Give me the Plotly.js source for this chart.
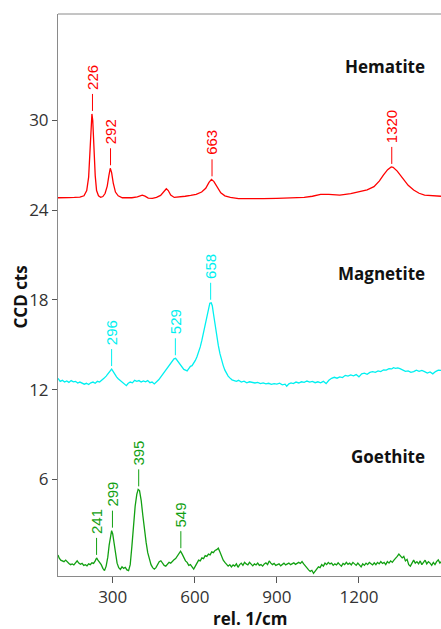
<!DOCTYPE html>
<html>
<head>
<meta charset="utf-8">
<script src="https://cdn.plot.ly/plotly-3.0.1.min.js"></script>
<style>
html,body{margin:0;padding:0;background:#fff;overflow:hidden;}
#chart{width:441px;height:629px;}
</style>
</head>
<body>
<div id="chart"></div>
<script>
// ---- Data ----
const hematiteX = [100,120,140,160,180,195,205,212,217,221,224,227,231,236,241,248,256,264,272,280,286,291,296,302,310,320,335,350,370,390,400,408,418,430,445,460,475,488,496,503,512,525,545,565,585,605,625,640,652,661,670,682,695,710,730,760,800,850,900,950,1000,1030,1060,1090,1130,1170,1200,1230,1255,1275,1290,1305,1318,1325,1340,1362,1380,1400,1420,1440,1470,1500];
const hematiteY = [24.82,24.80,24.83,24.84,24.86,24.95,25.3,26.2,27.8,29.6,30.42,30.0,28.2,26.3,25.3,24.95,24.85,24.9,25.1,25.6,26.3,26.79,26.5,25.8,25.2,24.95,24.82,24.8,24.82,24.88,24.95,24.99,24.93,24.8,24.78,24.85,24.98,25.25,25.42,25.3,25.0,24.84,24.86,24.92,24.98,25.05,25.2,25.45,25.85,26.05,25.9,25.5,25.15,24.95,24.85,24.76,24.74,24.76,24.78,24.8,24.84,24.92,25.05,25.04,25.0,25.1,25.2,25.35,25.56,25.95,26.35,26.7,26.88,26.85,26.6,26.1,25.65,25.34,25.12,25.0,24.95,24.92];

const magnetiteX = [100,108,116,124,132,140,148,156,164,172,180,188,196,204,212,220,228,236,244,252,260,268,276,284,290,296,302,308,314,320,328,336,344,350,356,364,372,380,388,396,404,412,420,428,436,444,452,460,468,476,484,492,500,508,516,524,530,536,542,548,554,560,566,572,578,584,590,596,602,608,614,620,626,632,638,644,650,655,660,664,668,672,676,680,686,692,698,704,710,716,722,728,736,744,752,760,770,780,790,800,810,820,830,840,850,860,870,880,890,900,910,920,930,936,944,952,960,970,980,990,1000,1010,1020,1030,1040,1050,1060,1070,1080,1090,1100,1110,1120,1130,1140,1150,1160,1170,1180,1190,1200,1210,1220,1230,1240,1250,1260,1270,1280,1290,1300,1310,1320,1326,1334,1342,1350,1360,1370,1380,1390,1400,1410,1420,1430,1440,1450,1460,1470,1480,1490,1500];
const magnetiteY = [12.75,12.55,12.62,12.5,12.58,12.48,12.6,12.52,12.55,12.44,12.5,12.4,12.36,12.42,12.34,12.45,12.5,12.42,12.55,12.5,12.6,12.75,12.9,13.1,13.3,13.37,13.2,13.0,12.85,12.72,12.6,12.45,12.35,12.26,12.4,12.5,12.45,12.62,12.55,12.6,12.5,12.58,12.52,12.6,12.46,12.5,12.38,12.5,12.65,12.85,13.05,13.3,13.5,13.7,13.9,14.05,14.09,13.95,13.8,13.62,13.5,13.35,13.3,13.25,13.4,13.55,13.6,13.75,13.95,14.2,14.5,14.85,15.3,15.8,16.3,16.8,17.3,17.77,17.8,17.6,17.1,16.6,16.0,15.5,14.95,14.4,13.95,13.6,13.3,13.05,12.9,12.78,12.65,12.6,12.55,12.62,12.5,12.56,12.45,12.52,12.5,12.44,12.48,12.4,12.45,12.38,12.42,12.35,12.4,12.37,12.43,12.32,12.36,12.22,12.38,12.45,12.4,12.5,12.44,12.52,12.48,12.57,12.5,12.55,12.46,12.52,12.45,12.55,12.4,12.62,12.75,12.82,12.76,12.85,12.8,12.95,12.9,12.98,12.92,13.0,12.85,13.05,13.1,13.02,13.15,13.2,13.15,13.25,13.2,13.32,13.3,13.4,13.38,13.46,13.42,13.45,13.4,13.32,13.22,13.25,13.15,13.2,13.3,13.22,13.28,13.2,13.1,13.18,13.05,13.2,13.3,13.28];

const goethiteX = [100,104,110,116,122,128,134,140,146,152,158,164,170,176,182,188,194,200,206,212,218,224,230,236,241,246,252,258,264,270,276,282,287,292,296,300,305,310,316,322,328,334,340,346,352,358,364,370,376,382,388,393,398,404,410,416,422,428,434,440,446,452,458,464,470,476,482,488,494,500,506,512,518,524,530,536,542,548,554,560,566,572,578,584,590,596,602,608,614,620,626,632,638,644,650,656,662,668,674,680,686,692,698,704,710,716,722,728,734,740,746,752,758,764,770,776,782,788,794,800,806,812,818,824,830,836,842,848,854,860,866,872,878,884,890,896,902,908,914,920,926,932,938,944,950,956,962,968,974,980,986,992,998,1004,1010,1016,1022,1028,1034,1040,1046,1052,1058,1064,1070,1076,1082,1088,1094,1100,1106,1112,1118,1124,1130,1136,1142,1148,1154,1160,1166,1172,1178,1184,1190,1196,1202,1208,1214,1220,1226,1232,1238,1244,1250,1256,1262,1268,1274,1280,1286,1292,1298,1304,1310,1316,1322,1328,1334,1340,1346,1352,1358,1364,1370,1376,1382,1388,1394,1400,1406,1412,1418,1424,1430,1436,1442,1448,1454,1460,1466,1472,1478,1484,1490,1496,1500];
const goethiteY = [0.95,0.75,0.6,0.55,0.5,0.6,0.45,0.38,0.3,0.35,0.28,0.42,0.55,0.4,0.32,0.38,0.25,0.3,0.22,0.35,0.3,0.42,0.38,0.55,0.75,0.6,0.45,0.3,0.05,-0.1,0.2,0.8,1.6,2.3,2.57,2.35,1.8,1.0,0.4,0.1,-0.02,0.15,0.05,0.12,-0.05,-0.1,0.3,1.5,2.9,4.2,5.0,5.33,5.25,4.6,3.6,2.6,1.8,1.1,0.6,0.3,0.1,0.0,0.1,0.3,0.5,0.56,0.4,0.25,0.2,0.3,0.45,0.4,0.55,0.62,0.7,0.85,1.05,1.2,1.0,0.75,0.55,0.45,0.25,0.3,0.15,0.0,0.2,0.45,0.6,0.55,0.75,0.7,0.9,0.85,1.0,0.95,1.15,1.1,1.25,1.3,1.4,1.15,0.85,0.6,0.45,0.3,0.2,0.3,0.15,0.28,0.2,0.35,0.12,0.3,0.4,0.25,0.45,0.35,0.28,0.45,0.3,0.22,0.35,0.28,0.4,0.25,0.3,0.2,0.35,0.42,0.3,0.55,0.4,0.3,0.38,0.25,0.3,0.35,0.22,0.3,0.4,0.28,0.35,0.4,0.3,0.38,0.42,0.32,0.4,0.45,0.38,0.5,0.35,0.2,0.05,-0.05,-0.15,-0.08,-0.28,-0.15,0.05,0.15,0.1,0.3,0.2,0.4,0.3,0.45,0.35,0.4,0.25,0.35,0.28,0.42,0.3,0.2,0.38,0.3,0.45,0.32,0.4,0.28,0.45,0.35,0.25,0.4,0.3,0.15,0.35,0.25,0.4,0.3,0.45,0.35,0.28,0.42,0.3,0.45,0.35,0.5,0.38,0.45,0.3,0.5,0.4,0.55,0.45,0.6,0.7,0.85,1.0,0.9,0.75,0.85,0.55,0.65,0.3,0.2,0.45,0.6,0.4,0.5,0.35,0.55,0.3,0.45,0.6,0.35,0.5,0.4,0.25,0.45,0.3,0.5,0.62,0.4,0.5];

// Peak labels
const hematitePeakX = [226, 292, 663, 1320];
const hematitePeakY = [30.42, 26.79, 26.05, 26.88];
const magnetitePeakX = [296, 529, 658];
const magnetitePeakY = [13.37, 14.09, 17.8];
const goethitePeakX = [241, 299, 395, 549];
const goethitePeakY = [0.75, 2.57, 5.33, 1.2];

const mineralNames = ["Hematite", "Magnetite", "Goethite"];
const mineralLabelY = [33.58, 19.79, 7.51];

const xTicks = [300, 600, 900, 1200];
const yTicks = [6, 12, 18, 24, 30];
const xTitle = "rel. 1/cm";
const yTitle = "CCD cts";

const RED = "#ff0000", CYAN = "#00f0f0", GREEN = "#12a012";

const traces = [
  {x: hematiteX, y: hematiteY, mode: "lines", line: {color: RED, width: 1.3}, hoverinfo: "skip"},
  {x: magnetiteX, y: magnetiteY, mode: "lines", line: {color: CYAN, width: 1.3}, hoverinfo: "skip"},
  {x: goethiteX, y: goethiteY, mode: "lines", line: {color: GREEN, width: 1.3}, hoverinfo: "skip"}
];

const annotations = [];
const shapes = [
  {type: "line", xref: "paper", yref: "paper", x0: 0, x1: 1, y0: 1, y1: 1, line: {color: "#8a8a8a", width: 1}}
];
function addPeaks(xs, ys, color) {
  xs.forEach((px, i) => {
    shapes.push({
      type: "line", xref: "x", yref: "y", ysizemode: "pixel", yanchor: ys[i],
      x0: px, x1: px, y0: 3, y1: 20, line: {color: color, width: 1}
    });
    annotations.push({
      x: px, y: ys[i], xref: "x", yref: "y",
      text: String(px), textangle: -90, showarrow: false,
      xanchor: "center", yanchor: "bottom", yshift: 23, borderpad: 0,
      font: {family: "Liberation Sans, Arial, sans-serif", size: 15, color: color}
    });
  });
}
addPeaks(hematitePeakX, hematitePeakY, RED);
addPeaks(magnetitePeakX, magnetitePeakY, CYAN);
addPeaks(goethitePeakX, goethitePeakY, GREEN);

mineralNames.forEach((n, i) => {
  annotations.push({
    x: 0.9635, xref: "paper", y: mineralLabelY[i], yref: "y",
    text: "<b>" + n + "</b>", showarrow: false, xanchor: "right", yanchor: "middle",
    font: {family: "Open Sans, sans-serif", size: 17, color: "#111"}
  });
});

// axis titles
annotations.push({
  x: 0.5, xref: "paper", y: -0.0765, yref: "paper", text: "<b>" + xTitle + "</b>",
  showarrow: false, xanchor: "center", yanchor: "middle",
  font: {family: "Open Sans, sans-serif", size: 17, color: "#111"}
});
annotations.push({
  x: -0.097, xref: "paper", y: 0.497, yref: "paper", text: "<b>" + yTitle + "</b>",
  textangle: -90, showarrow: false, xanchor: "center", yanchor: "middle",
  font: {family: "Open Sans, sans-serif", size: 17, color: "#111"}
});

const layout = {
  width: 441, height: 629,
  margin: {l: 58, r: 0, t: 14, b: 53, pad: 0},
  paper_bgcolor: "#fff", plot_bgcolor: "#fff",
  showlegend: false,
  font: {family: "Open Sans, sans-serif", size: 17, color: "#333"},
  xaxis: {
    range: [100, 1500], tickvals: xTicks, ticktext: xTicks.map(String),
    showgrid: false, zeroline: false, showline: true, linecolor: "#8a8a8a", linewidth: 1,
    ticks: "outside", ticklen: 6, tickcolor: "#555", tickwidth: 1,
    tickfont: {family: "Open Sans, sans-serif", size: 17, color: "#333"}
  },
  yaxis: {
    range: [-0.46, 37.1], tickvals: yTicks, ticktext: yTicks.map(String),
    showgrid: false, zeroline: false, showline: true, linecolor: "#8a8a8a", linewidth: 1,
    ticks: "outside", ticklen: 5, tickcolor: "#555", tickwidth: 1,
    tickfont: {family: "Open Sans, sans-serif", size: 17, color: "#333"}
  },
  shapes: shapes,
  annotations: annotations
};

Plotly.newPlot("chart", traces, layout, {staticPlot: true, displayModeBar: false});
</script>
</body>
</html>
